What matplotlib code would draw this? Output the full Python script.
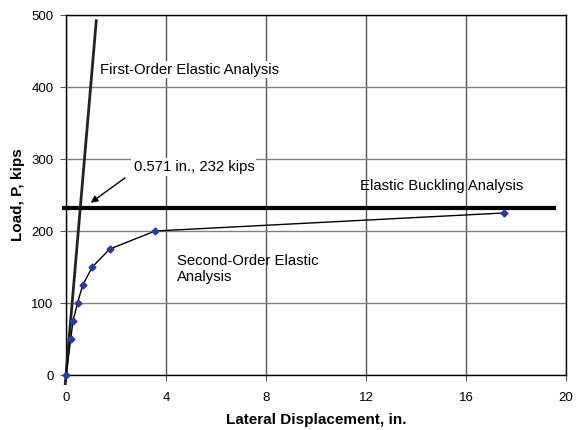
import matplotlib
matplotlib.use("Agg")
import matplotlib.pyplot as plt

plt.rcParams['font.family'] = ['Liberation Sans', 'DejaVu Sans']

# second-order elastic analysis points
disp = [0.0, 0.19, 0.28, 0.46, 0.67, 1.05, 1.75, 3.57, 17.5]
load = [0, 50, 75, 100, 125, 150, 175, 200, 225]

# first-order elastic line (stiffness from 232 kips at 0.571 in.)
fo_load = [-12, 492]
fo_disp = [p * 0.571 / 232 for p in fo_load]

p_buckle = 232
buckle_x = [-0.1, 19.5]

fig = plt.figure(figsize=(5.77, 4.30), dpi=100)
ax = fig.add_axes([66 / 577, 55 / 430, 500 / 577, 360 / 430])

ax.set_xlim(0, 20)
ax.set_ylim(0, 500)
ax.set_xticks([0, 4, 8, 12, 16, 20])
ax.set_yticks([0, 100, 200, 300, 400, 500])
ax.xaxis.grid(True, color='#555555', linewidth=1.0)
ax.yaxis.grid(True, color='#808080', linewidth=1.0)
ax.set_axisbelow(True)
for s in ax.spines.values():
    s.set_linewidth(1.0)
    s.set_color('black')
ax.tick_params(labelsize=9.5, length=4, width=0.8, color='#555555')
ax.tick_params(axis='x', pad=8)
ax.tick_params(axis='y', pad=5)

ax.plot(fo_disp, fo_load, color='#222222', linewidth=2.0, clip_on=False, zorder=3)
ax.plot(buckle_x, [p_buckle, p_buckle], color='black', linewidth=3.0, clip_on=False, zorder=3)
ax.plot(disp, load, color='black', linewidth=1.0, marker='D', markersize=3.5,
        markerfacecolor='#2B3A9E', markeredgecolor='#2B3A9E', clip_on=False, zorder=4)

ax.text(1.35, 424, 'First-Order Elastic Analysis', fontsize=10.7, va='center', ha='left',
        bbox=dict(facecolor='white', edgecolor='none', pad=1.0), zorder=2)
ax.text(2.7, 289, '0.571 in., 232 kips', fontsize=10.7, va='center', ha='left',
        bbox=dict(facecolor='white', edgecolor='none', pad=1.5), zorder=2)
ax.annotate('', xy=(0.9, 237), xytext=(2.45, 276),
            arrowprops=dict(arrowstyle='-|>', color='black', lw=1.0, mutation_scale=10))
ax.text(18.3, 263, 'Elastic Buckling Analysis', fontsize=10.7, va='center', ha='right')
ax.text(4.45, 147, 'Second-Order Elastic\nAnalysis', fontsize=10.7, va='center', ha='left',
        linespacing=1.2)

ax.set_xlabel('Lateral Displacement, in.', fontsize=11, fontweight='bold', va='center')
ax.set_ylabel('Load, P, kips', fontsize=11, fontweight='bold', va='center')
ax.xaxis.set_label_coords(0.5, -0.125)
ax.yaxis.set_label_coords(-0.096, 0.5)

fig.savefig('out.png', dpi=100)
